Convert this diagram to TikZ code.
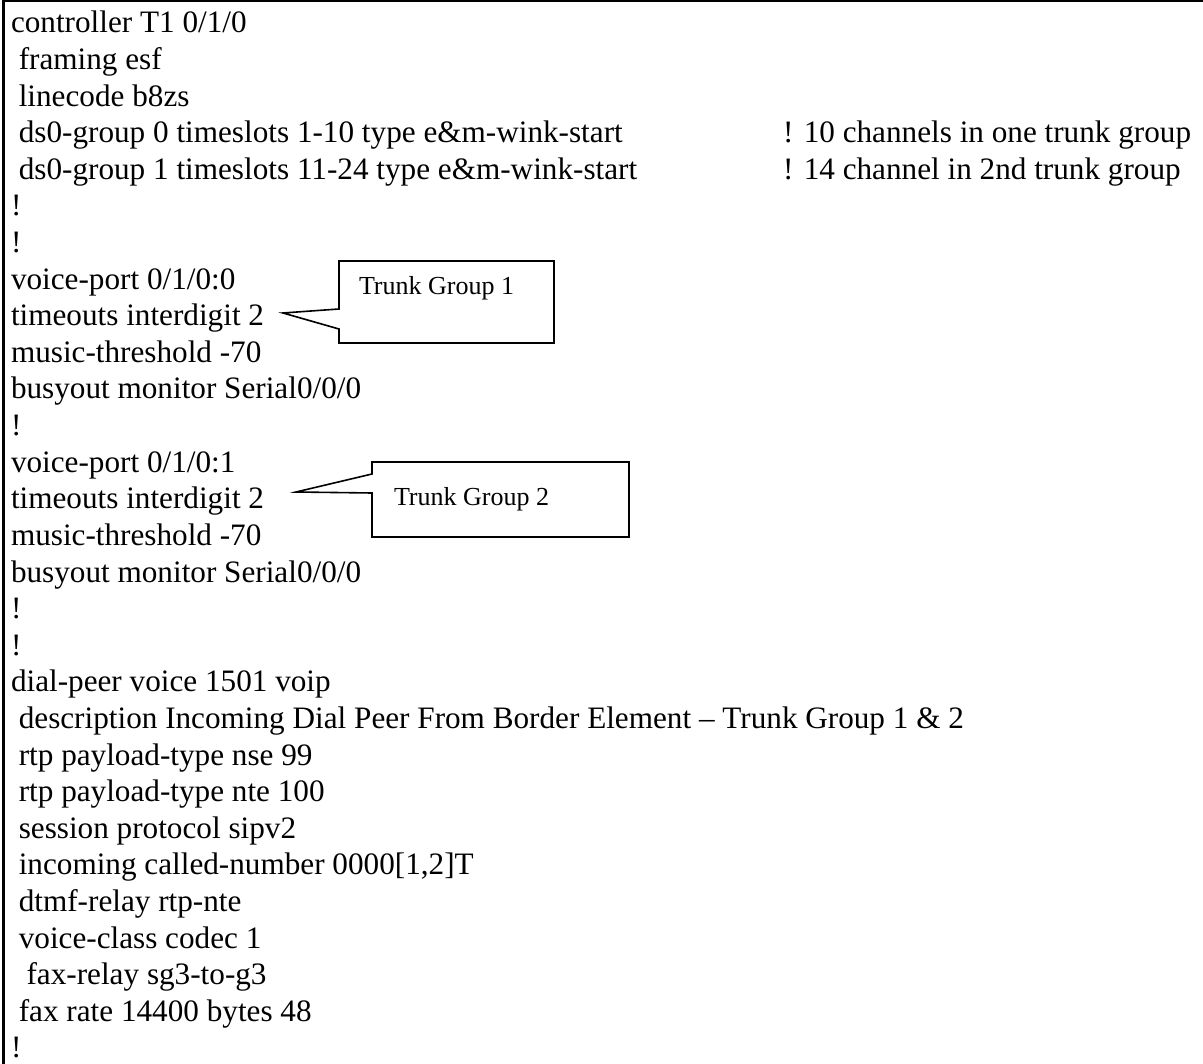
\documentclass[tikz,border=0pt]{standalone}
\usepackage{fontspec}
\setmainfont{Liberation Serif}
\begin{document}
\begin{tikzpicture}[x=1pt,y=-1pt,
  cfg/.style={anchor=base west,inner sep=0pt,outer sep=0pt,
    font=\fontsize{31.2}{36.6}\selectfont},
  note/.style={anchor=base west,inner sep=0pt,outer sep=0pt,
    font=\fontsize{26}{30}\selectfont},
  frameline/.style={line width=2.3pt},
  calloutline/.style={line width=1.6pt,line join=miter}]
\useasboundingbox (0,0) rectangle (1203,1064);
% page frame (open at right and bottom)
\draw[frameline] (3.5,1070) -- (3.5,1) -- (1210,1);
% configuration listing
\def\lx{11}
\def\ind{7.8}
\node[cfg] (l1)  at (\lx,33.0)              {controller T1 0/1/0};
\node[cfg] (l2)  at (\lx+\ind,69.6)         {framing esf};
\node[cfg] (l3)  at (\lx+\ind,106.2)        {linecode b8zs};
\node[cfg] (l4)  at (\lx+\ind,142.8)        {ds0-group 0 timeslots 1-10 type e\&m-wink-start};
\node[cfg] (l5)  at (\lx+\ind,179.4)        {ds0-group 1 timeslots 11-24 type e\&m-wink-start};
\node[cfg] (c4)  at (783,142.8)             {! 10 channels in one trunk group};
\node[cfg] (c5)  at (783,179.4)             {! 14 channel in 2nd trunk group};
\node[cfg] (l6)  at (\lx,216.0)             {!};
\node[cfg] (l7)  at (\lx,252.6)             {!};
\node[cfg] (l8)  at (\lx,289.2)             {voice-port 0/1/0:0};
\node[cfg] (l9)  at (\lx,325.8)             {timeouts interdigit 2};
\node[cfg] (l10) at (\lx,362.4)             {music-threshold -70};
\node[cfg] (l11) at (\lx,399.0)             {busyout monitor Serial0/0/0};
\node[cfg] (l12) at (\lx,435.6)             {!};
\node[cfg] (l13) at (\lx,472.2)             {voice-port 0/1/0:1};
\node[cfg] (l14) at (\lx,508.8)             {timeouts interdigit 2};
\node[cfg] (l15) at (\lx,545.4)             {music-threshold -70};
\node[cfg] (l16) at (\lx,582.0)             {busyout monitor Serial0/0/0};
\node[cfg] (l17) at (\lx,618.6)             {!};
\node[cfg] (l18) at (\lx,655.2)             {!};
\node[cfg] (l19) at (\lx,691.8)             {dial-peer voice 1501 voip};
\node[cfg] (l20) at (\lx+\ind,728.4)        {description Incoming Dial Peer From Border Element – Trunk Group 1 \& 2};
\node[cfg] (l21) at (\lx+\ind,765.0)        {rtp payload-type nse 99};
\node[cfg] (l22) at (\lx+\ind,801.6)        {rtp payload-type nte 100};
\node[cfg] (l23) at (\lx+\ind,838.2)        {session protocol sipv2};
\node[cfg] (l24) at (\lx+\ind,874.8)        {incoming called-number 0000[1,2]T};
\node[cfg] (l25) at (\lx+\ind,911.4)        {dtmf-relay rtp-nte};
\node[cfg] (l26) at (\lx+\ind,948.0)        {voice-class codec 1};
\node[cfg] (l27) at (\lx+2*\ind,984.6)      {fax-relay sg3-to-g3};
\node[cfg] (l28) at (\lx+\ind,1021.2)       {fax rate 14400 bytes 48};
\node[cfg] (l29) at (\lx,1057.8)            {!};
% callout for the first voice port
\coordinate (tipA) at (283,313);
\draw[calloutline,fill=white] (339,261) -- (554,261) -- (554,343) -- (339,343)
  -- (339,329) -- (tipA) -- (339,309) -- cycle;
\node[note] (tg1) at (359,295) {Trunk Group 1};
% callout for the second voice port
\coordinate (tipB) at (296,492);
\draw[calloutline,fill=white] (372,462) -- (629,462) -- (629,537) -- (372,537)
  -- (372,493) -- (tipB) -- (372,474) -- cycle;
\node[note] (tg2) at (394,506) {Trunk Group 2};
\end{tikzpicture}
\end{document}
